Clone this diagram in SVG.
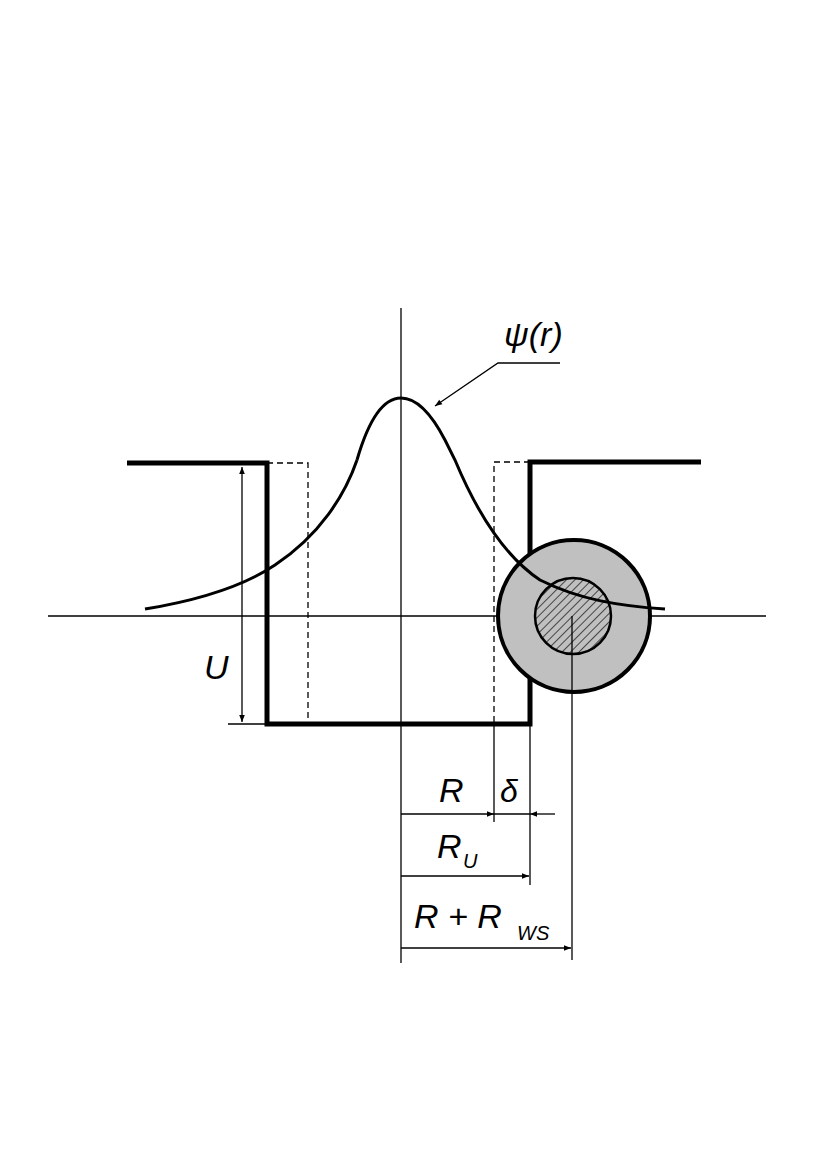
<svg xmlns="http://www.w3.org/2000/svg" width="817" height="1176" viewBox="0 0 817 1176">
<style>
.t{font-family:"Liberation Sans",Arial,sans-serif;font-style:italic;fill:#000}
.thin{stroke:#000;stroke-width:1.3;fill:none}
.thick{stroke:#000;stroke-width:5;fill:none}
.dash{stroke:#000;stroke-width:1.3;fill:none;stroke-dasharray:6,4}
</style>
<defs>
<marker id="a" viewBox="0 0 10 10" refX="10" refY="5" markerWidth="18" markerHeight="7" markerUnits="userSpaceOnUse" orient="auto-start-reverse"><path d="M0,1L10,5L0,9z" fill="#000"/></marker>
<pattern id="h" width="6" height="6" patternUnits="userSpaceOnUse" patternTransform="rotate(45)"><rect width="6" height="6" fill="#c0c0c0"/><line x1="0" y1="0" x2="0" y2="6" stroke="#000" stroke-width="1.3"/></pattern>
</defs>
<g id="axes">
<line class="thin" x1="401" y1="308" x2="401" y2="963"/>
<line class="thin" x1="48" y1="616" x2="766" y2="616"/>
</g>
<g id="well">
<path class="thick" d="M127,463H267V724H530V462H701"/>
<path class="dash" d="M267,463H308V724"/>
<path class="dash" d="M530,462H494V724"/>
</g>
<g id="particle">
<circle cx="574" cy="616" r="76" fill="#c0c0c0" stroke="#000" stroke-width="4"/>
<circle cx="573" cy="616" r="38" fill="url(#h)" stroke="#000" stroke-width="2.5"/>
</g>
<g id="curve">
<path d="M145,609C200,600 245,585 275,565C320,535 345,495 357,460" stroke="#000" stroke-width="3" fill="none"/>
<path d="M357,460C370,415 385,398 401,398C417,398 432,415 445,440L455,460C480,520 510,560 540,580C580,600 620,606 665,609" stroke="#000" stroke-width="3" fill="none"/>
</g>
<g id="connectors">
<polyline class="thin" points="560,363 498,363 435,406" marker-end="url(#a)"/>
<line class="thin" x1="242" y1="467" x2="242" y2="722" marker-start="url(#a)" marker-end="url(#a)"/>
<line class="thin" x1="228" y1="724" x2="267" y2="724"/>
<line class="thin" x1="494" y1="724" x2="494" y2="822"/>
<line class="thin" x1="530" y1="724" x2="530" y2="885"/>
<line class="thin" x1="572" y1="616" x2="572" y2="960"/>
<line class="thin" x1="401" y1="814" x2="494" y2="814" marker-end="url(#a)"/>
<line class="thin" x1="555" y1="814" x2="530" y2="814" marker-end="url(#a)"/>
<line class="thin" x1="494" y1="814" x2="530" y2="814"/>
<line class="thin" x1="401" y1="876" x2="529" y2="876" marker-end="url(#a)"/>
<line class="thin" x1="401" y1="948" x2="571" y2="948" marker-end="url(#a)"/>
</g>
<g id="labels">
<text class="t" x="504" y="346" font-size="34">ψ(r)</text>
<text class="t" x="204" y="679" font-size="34">U</text>
<text class="t" x="439" y="802" font-size="34">R</text>
<text class="t" x="500" y="802" font-size="32" font-family="Liberation Serif">δ</text>
<text class="t" x="437" y="858" font-size="34">R</text>
<text class="t" x="463" y="868" font-size="20">U</text>
<text class="t" x="414" y="928" font-size="34">R + R</text>
<text class="t" x="517" y="940" font-size="20">WS</text>
</g>
</svg>
